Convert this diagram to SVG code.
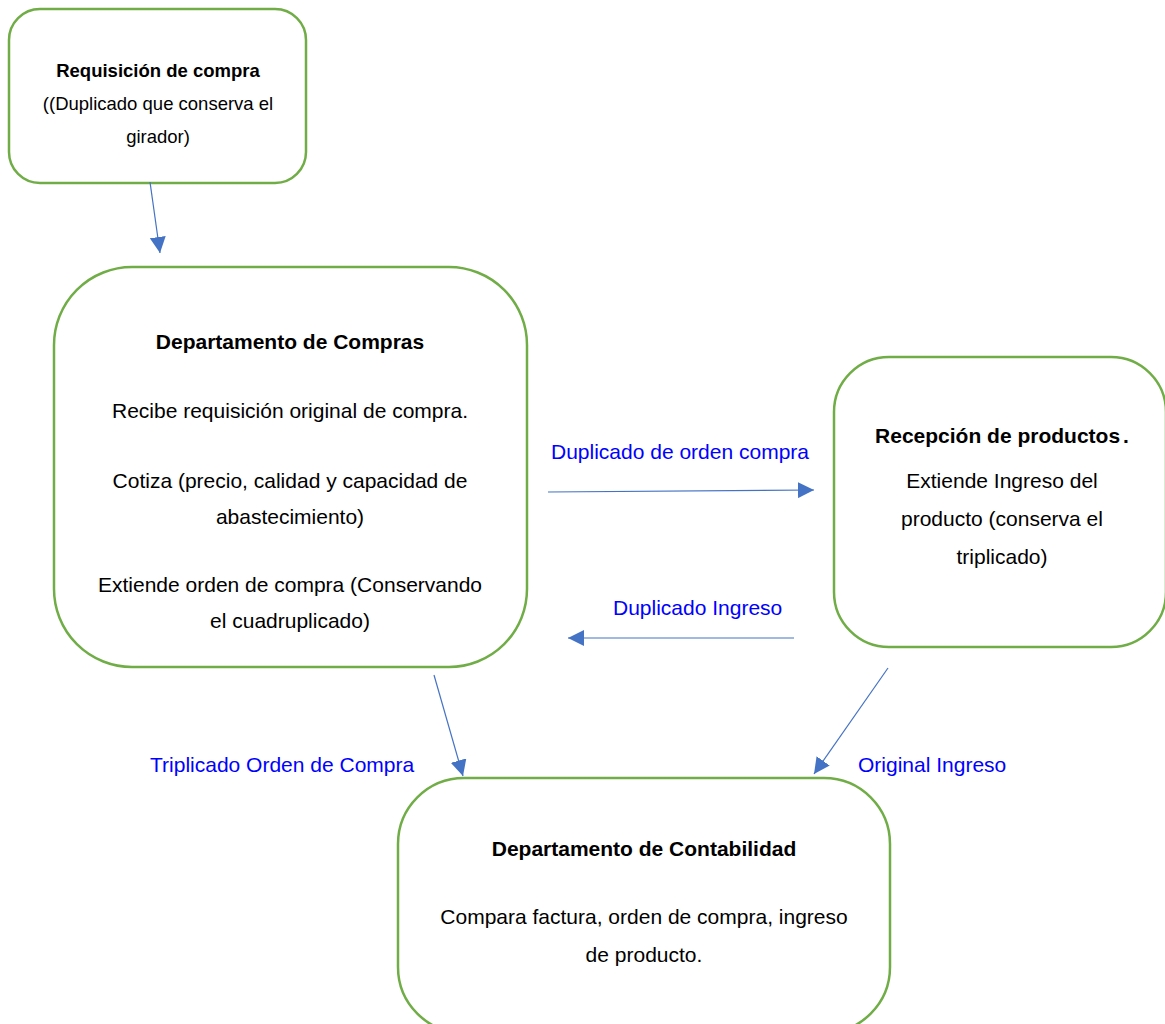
<svg xmlns="http://www.w3.org/2000/svg" width="1165" height="1024" viewBox="0 0 1165 1024">
  <style>
    .box { fill: #ffffff; stroke: #70AD47; stroke-width: 2.5; }
    .t { font-family: "Liberation Sans", Arial, sans-serif; fill: #000000; text-anchor: middle; }
    .b { font-weight: bold; }
    .lbl { font-family: "Liberation Sans", Arial, sans-serif; fill: #0000FF; font-size: 21px; }
    .conn { stroke: #4472C4; stroke-width: 1.2; fill: none; marker-end: url(#arrow); }
  </style>
  <defs>
    <marker id="arrow" markerUnits="userSpaceOnUse" markerWidth="16" markerHeight="16" viewBox="0 0 16 16" refX="16" refY="8" orient="auto">
      <path d="M0,0 L16,8 L0,16 Z" fill="#4472C4"/>
    </marker>
  </defs>

  <rect width="1165" height="1024" fill="#ffffff"/>

  <!-- Requisición de compra -->
  <g id="node-requisicion">
    <rect class="box" x="9" y="9" width="297" height="174" rx="31" ry="31"/>
    <text class="t b" x="158" y="77" font-size="18.5">Requisición de compra</text>
    <text class="t" x="158" y="110" font-size="18.5">((Duplicado que conserva el</text>
    <text class="t" x="158" y="143" font-size="18.5">girador)</text>
  </g>

  <!-- Departamento de Compras -->
  <g id="node-compras">
    <rect class="box" x="54" y="267" width="473" height="400" rx="78" ry="78"/>
    <text class="t b" x="290" y="349" font-size="21">Departamento de Compras</text>
    <text class="t" x="290" y="418" font-size="21">Recibe requisición original de compra.</text>
    <text class="t" x="290" y="488" font-size="21">Cotiza (precio, calidad y capacidad de</text>
    <text class="t" x="290" y="524" font-size="21">abastecimiento)</text>
    <text class="t" x="290" y="592" font-size="21">Extiende orden de compra (Conservando</text>
    <text class="t" x="290" y="628" font-size="21">el cuadruplicado)</text>
  </g>

  <!-- Recepción de productos -->
  <g id="node-recepcion">
    <rect class="box" x="834" y="357" width="332" height="290" rx="55" ry="55"/>
    <text class="t b" x="1002" y="443" font-size="21">Recepción de productos<tspan dx="3">.</tspan></text>
    <text class="t" x="1002" y="488" font-size="21">Extiende Ingreso del</text>
    <text class="t" x="1002" y="526" font-size="21">producto (conserva el</text>
    <text class="t" x="1002" y="564" font-size="21">triplicado)</text>
  </g>

  <!-- Departamento de Contabilidad (runs past the bottom edge) -->
  <g id="node-contabilidad">
    <rect class="box" x="398" y="778" width="492" height="255" rx="66" ry="66"/>
    <text class="t b" x="644" y="856" font-size="21">Departamento de Contabilidad</text>
    <text class="t" x="644" y="924" font-size="21">Compara factura, orden de compra, ingreso</text>
    <text class="t" x="644" y="962" font-size="21">de producto.</text>
  </g>

  <!-- Connectors and their labels -->
  <g id="connectors">
    <line class="conn" x1="150" y1="182" x2="160" y2="253"/>
    <line class="conn" x1="548" y1="492" x2="814" y2="490"/>
    <line class="conn" x1="794" y1="638" x2="568" y2="638"/>
    <line class="conn" x1="434" y1="675" x2="463" y2="776"/>
    <line class="conn" x1="888" y1="668" x2="814" y2="774"/>
    <text class="lbl" x="551" y="459">Duplicado de orden compra</text>
    <text class="lbl" x="613" y="615">Duplicado Ingreso</text>
    <text class="lbl" x="150" y="772">Triplicado Orden de Compra</text>
    <text class="lbl" x="858" y="772">Original Ingreso</text>
  </g>
</svg>
